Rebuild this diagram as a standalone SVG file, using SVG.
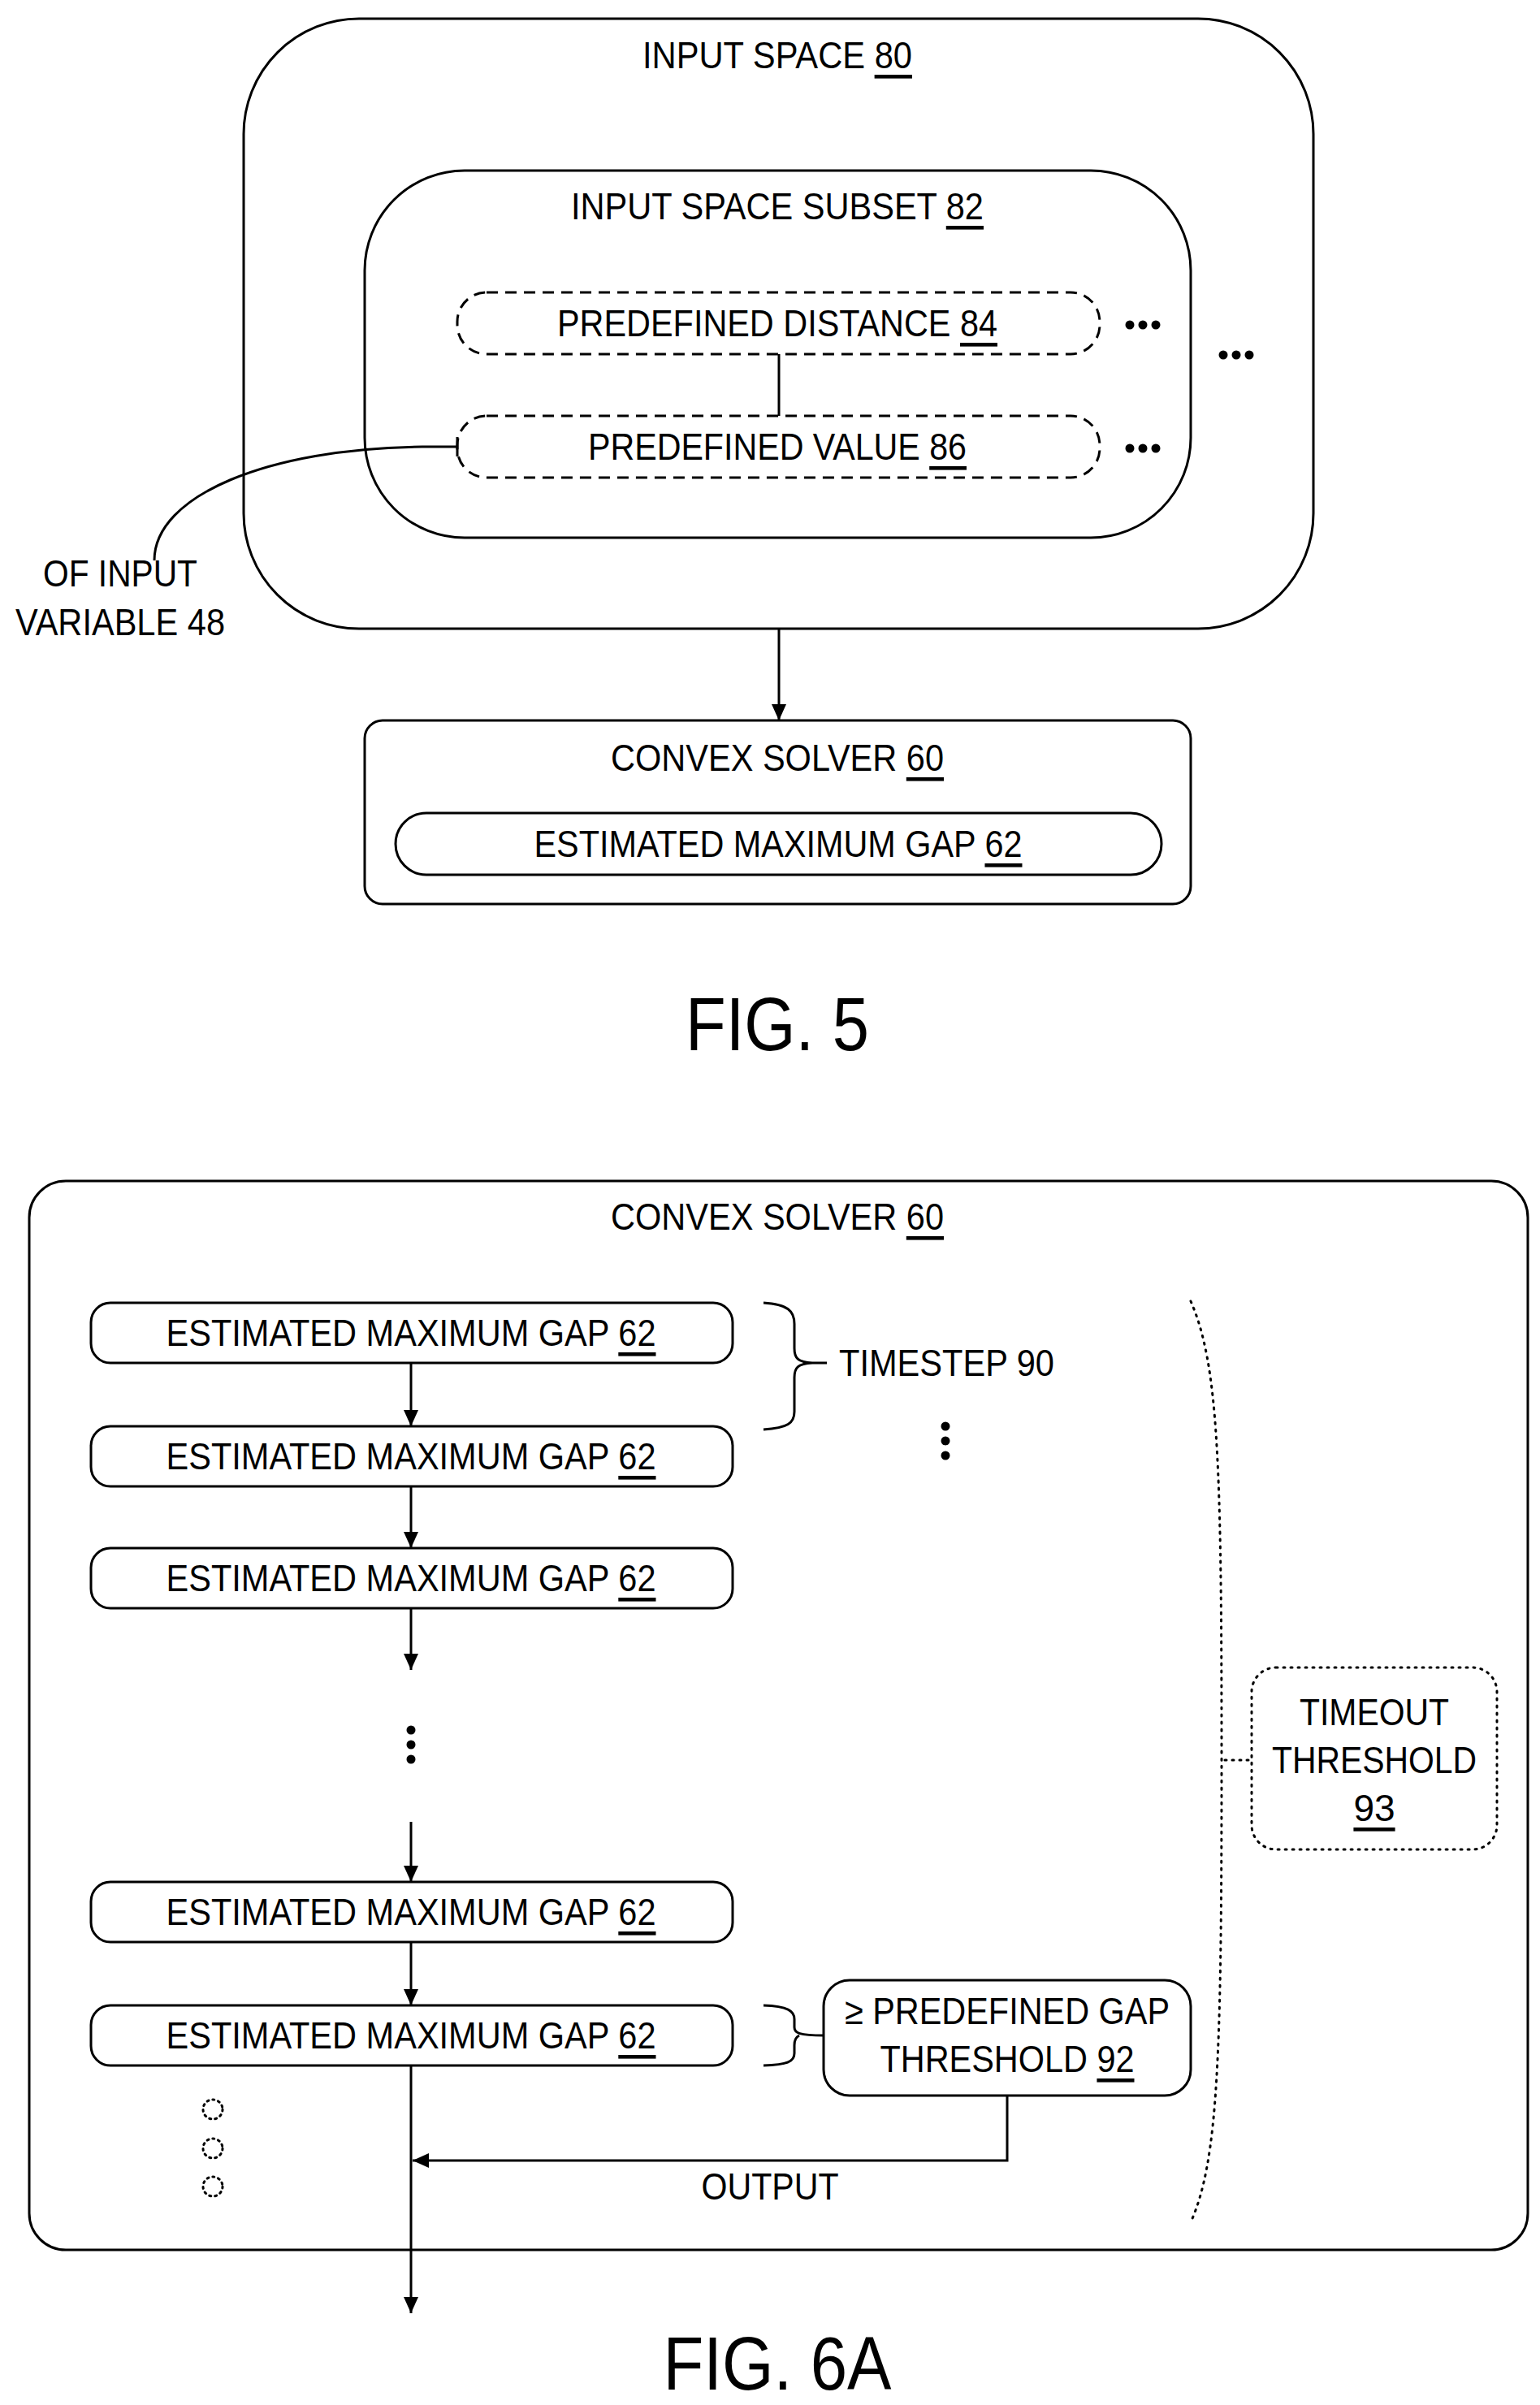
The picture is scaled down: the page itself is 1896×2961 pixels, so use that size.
<svg xmlns="http://www.w3.org/2000/svg" width="1896" height="2961" viewBox="0 0 1896 2961">
<style>
text{font-family:"Liberation Sans Narrow","Liberation Sans",Arial,sans-serif;font-size:46px;fill:#000;text-anchor:middle;dominant-baseline:central}
.u{text-decoration:underline}
.box{fill:#fff;stroke:#000;stroke-width:3}
.dash{fill:none;stroke:#000;stroke-width:3;stroke-dasharray:14 9}
.dot{fill:none;stroke:#000;stroke-width:3;stroke-dasharray:2 7;stroke-linecap:round}
.ln{fill:none;stroke:#000;stroke-width:3}
.fig{font-size:92px}
</style>
<defs><marker id="a" markerWidth="10" markerHeight="10" refX="9" refY="5" orient="auto" markerUnits="userSpaceOnUse" viewBox="0 0 10 10"><path d="M0,0 L10,5 L0,10 z" fill="#000"/></marker>
<marker id="ar" markerWidth="20" markerHeight="18" refX="20" refY="9" orient="auto" markerUnits="userSpaceOnUse"><path d="M0,0 L20,9 L0,18 z" fill="#000"/></marker></defs>

<g id="input-space"><rect class="box" x="300" y="23" width="1317" height="751" rx="142"/><text x="957" y="68" textLength="332" lengthAdjust="spacingAndGlyphs">INPUT SPACE <tspan class="u">80</tspan></text></g>
<g id="input-subset"><rect class="box" x="449" y="210" width="1017" height="452" rx="123"/><text x="957" y="254" textLength="508" lengthAdjust="spacingAndGlyphs">INPUT SPACE SUBSET <tspan class="u">82</tspan></text></g>
<g id="pred-distance"><rect class="dash" x="563" y="360" width="791" height="76" rx="36"/><text x="957" y="398" textLength="542" lengthAdjust="spacingAndGlyphs">PREDEFINED DISTANCE <tspan class="u">84</tspan></text></g>
<g id="pred-value"><rect class="dash" x="563" y="512" width="791" height="76" rx="36"/><text x="957" y="550" textLength="466" lengthAdjust="spacingAndGlyphs">PREDEFINED VALUE <tspan class="u">86</tspan></text></g>
<g id="dots5"><g fill="#000"><circle cx="1391" cy="400" r="5.5"/><circle cx="1407" cy="400" r="5.5"/><circle cx="1423" cy="400" r="5.5"/><circle cx="1391" cy="552" r="5.5"/><circle cx="1407" cy="552" r="5.5"/><circle cx="1423" cy="552" r="5.5"/><circle cx="1506" cy="437" r="5.5"/><circle cx="1522" cy="437" r="5.5"/><circle cx="1538" cy="437" r="5.5"/></g></g>
<g id="input-var-label"><text x="148" y="706" textLength="190" lengthAdjust="spacingAndGlyphs">OF INPUT</text><text x="148" y="766" textLength="258" lengthAdjust="spacingAndGlyphs">VARIABLE 48</text></g>
<g id="solver5"><rect class="box" x="449" y="887" width="1017" height="226" rx="22"/><text x="957" y="933" textLength="410" lengthAdjust="spacingAndGlyphs">CONVEX SOLVER <tspan class="u">60</tspan></text></g>
<g id="gap5"><rect class="box" x="487" y="1001" width="943" height="76" rx="38"/><text x="958" y="1039" textLength="601" lengthAdjust="spacingAndGlyphs">ESTIMATED MAXIMUM GAP <tspan class="u">62</tspan></text></g>
<text class="fig" x="957" y="1261" textLength="226" lengthAdjust="spacingAndGlyphs">FIG. 5</text>

<g id="solver6"><rect class="box" x="36" y="1454" width="1845" height="1316" rx="45"/><text x="957" y="1498" textLength="410" lengthAdjust="spacingAndGlyphs">CONVEX SOLVER <tspan class="u">60</tspan></text></g>
<g id="gap6-1"><rect class="box" x="112" y="1604" width="790" height="74" rx="24"/><text x="506" y="1641" textLength="603" lengthAdjust="spacingAndGlyphs">ESTIMATED MAXIMUM GAP <tspan class="u">62</tspan></text></g>
<g id="gap6-2"><rect class="box" x="112" y="1756" width="790" height="74" rx="24"/><text x="506" y="1793" textLength="603" lengthAdjust="spacingAndGlyphs">ESTIMATED MAXIMUM GAP <tspan class="u">62</tspan></text></g>
<g id="gap6-3"><rect class="box" x="112" y="1906" width="790" height="74" rx="24"/><text x="506" y="1943" textLength="603" lengthAdjust="spacingAndGlyphs">ESTIMATED MAXIMUM GAP <tspan class="u">62</tspan></text></g>
<g id="gap6-4"><rect class="box" x="112" y="2317" width="790" height="74" rx="24"/><text x="506" y="2354" textLength="603" lengthAdjust="spacingAndGlyphs">ESTIMATED MAXIMUM GAP <tspan class="u">62</tspan></text></g>
<g id="gap6-5"><rect class="box" x="112" y="2469" width="790" height="74" rx="24"/><text x="506" y="2506" textLength="603" lengthAdjust="spacingAndGlyphs">ESTIMATED MAXIMUM GAP <tspan class="u">62</tspan></text></g>
<g id="timestep"><text x="1033" y="1678" textLength="265" lengthAdjust="spacingAndGlyphs" text-anchor="start" style="text-anchor:start">TIMESTEP 90</text></g>
<g id="timeout"><rect class="dot" x="1541" y="2053" width="302" height="224" rx="30"/><text x="1692" y="2108" textLength="184" lengthAdjust="spacingAndGlyphs">TIMEOUT</text><text x="1692" y="2167" textLength="252" lengthAdjust="spacingAndGlyphs">THRESHOLD</text><text x="1692" y="2226" class="u">93</text></g>
<g id="gap-threshold"><rect class="box" x="1014" y="2438" width="452" height="142" rx="32"/><text x="1240" y="2476" textLength="400" lengthAdjust="spacingAndGlyphs">≥ PREDEFINED GAP</text><text x="1240" y="2535" textLength="313" lengthAdjust="spacingAndGlyphs">THRESHOLD <tspan class="u">92</tspan></text></g>
<g id="output-label"><text x="948" y="2692" textLength="169" lengthAdjust="spacingAndGlyphs">OUTPUT</text></g>
<g id="misc-dots"><g fill="#000"><circle cx="506" cy="2130" r="5.5"/><circle cx="506" cy="2148" r="5.5"/><circle cx="506" cy="2166" r="5.5"/><circle cx="1164" cy="1756" r="5.5"/><circle cx="1164" cy="1774" r="5.5"/><circle cx="1164" cy="1792" r="5.5"/></g>
<circle class="dot" cx="262" cy="2597" r="12" style="stroke-dasharray:2 5"/><circle class="dot" cx="262" cy="2645" r="12" style="stroke-dasharray:2 5"/><circle class="dot" cx="262" cy="2692" r="12" style="stroke-dasharray:2 5"/></g>
<text class="fig" x="957" y="2910" textLength="281" lengthAdjust="spacingAndGlyphs">FIG. 6A</text>

<g id="connectors">
<line class="ln" x1="959" y1="436" x2="959" y2="512"/>
<path class="ln" d="M563,538 L563,562 M563,550 L520,550 C330,552 190,610 190,690"/>
<line class="ln" x1="959" y1="774" x2="959" y2="887" marker-end="url(#ar)"/>
<line class="ln" x1="506" y1="1678" x2="506" y2="1756" marker-end="url(#ar)"/>
<line class="ln" x1="506" y1="1830" x2="506" y2="1906" marker-end="url(#ar)"/>
<line class="ln" x1="506" y1="1980" x2="506" y2="2056" marker-end="url(#ar)"/>
<line class="ln" x1="506" y1="2243" x2="506" y2="2317" marker-end="url(#ar)"/>
<line class="ln" x1="506" y1="2391" x2="506" y2="2469" marker-end="url(#ar)"/>
<line class="ln" x1="506" y1="2543" x2="506" y2="2848" marker-end="url(#ar)"/>
<path class="ln" d="M1240,2580 L1240,2660 L508,2660" marker-end="url(#ar)"/>
<path class="ln" d="M940,1604 C970,1606 978,1614 978,1630 L978,1660 C978,1672 982,1677 1000,1678 L1018,1678 M1000,1678 C982,1679 978,1684 978,1696 L978,1738 C978,1752 970,1758 940,1760"/>
<path class="ln" d="M940,2469 C970,2470 978,2476 978,2486 L978,2496 C978,2503 984,2506 1014,2506 M984,2506 C980,2508 978,2512 978,2518 L978,2528 C978,2538 970,2542 940,2543"/>
<path class="dot" d="M1466,1602 C1500,1680 1504,1800 1504,2167 C1504,2530 1500,2660 1466,2736"/>
<line class="dot" x1="1508" y1="2167" x2="1541" y2="2167"/>
</g>
</svg>
